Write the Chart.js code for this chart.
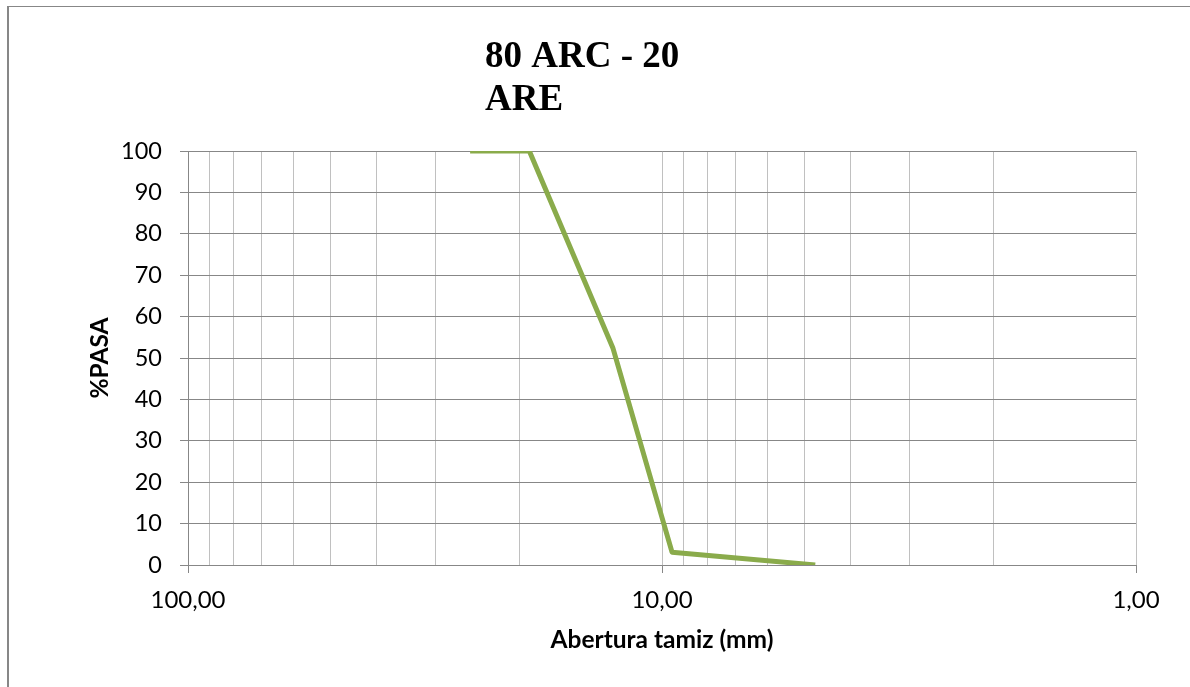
<!DOCTYPE html>
<html>
<head>
<meta charset="utf-8">
<script src="https://cdn.jsdelivr.net/npm/chart.js@4.4.1/dist/chart.umd.min.js"></script>
<style>
  html, body { margin: 0; padding: 0; background: #fff; }
  #wrap { position: relative; width: 1190px; height: 687px; overflow: hidden; }
  #frame { position: absolute; left: 7px; top: 6px; width: 1300px; height: 800px;
           border-left: 2px solid #878787; border-top: 1px solid #878787; }
  canvas { position: absolute; left: 0; top: 0; }
</style>
</head>
<body>
<div id="wrap">
  <div id="frame"></div>
  <canvas id="chart" width="1190" height="687"></canvas>
</div>
<script>
// Grading curve: sieve opening (mm) vs. percent passing
const titleLines = ['80 ARC - 20', 'ARE'];
const sieveOpening = [25.4, 19.05, 12.7, 9.525, 4.75];
const percentPassing = [100, 100, 52.5, 3.1, 0];
const gridValues = [1, 2, 3, 4, 5, 6, 7, 8, 9, 10, 20, 30, 40, 50, 60, 70, 80, 90, 100];
const labelledValues = [100, 10, 1];
const xTitle = 'Abertura tamiz (mm)';
const yTitle = '%PASA';

const DARK = '#878787';
const LIGHT = '#c0c0c0';
const SANS = 'Lato, "Open Sans", sans-serif';

const titleBlock = {
  id: 'titleBlock',
  afterDraw(chart) {
    const ctx = chart.ctx;
    ctx.save();
    ctx.font = 'bold 37px "Liberation Serif", "Times New Roman", serif';
    ctx.fillStyle = '#000';
    ctx.textAlign = 'left';
    ctx.textBaseline = 'alphabetic';
    titleLines.forEach((line, i) => ctx.fillText(line, 485, 67 + i * 43));
    ctx.restore();
  }
};

new Chart(document.getElementById('chart'), {
  type: 'line',
  data: {
    datasets: [{
      data: sieveOpening.map((x, i) => ({ x, y: percentPassing[i] })),
      borderColor: '#8aab4b',
      borderWidth: 5,
      borderJoinStyle: 'round',
      pointRadius: 0,
      tension: 0,
      fill: false
    }]
  },
  options: {
    responsive: false,
    animation: false,
    devicePixelRatio: 1,
    layout: { padding: { top: 151, right: 54, left: 0, bottom: 0 } },
    plugins: { legend: { display: false }, tooltip: { enabled: false }, title: { display: false } },
    scales: {
      x: {
        type: 'logarithmic',
        reverse: true,
        min: 1,
        max: 100,
        afterBuildTicks: s => { s.ticks = gridValues.map(v => ({ value: v })); },
        afterFit: s => { s.height = 122; },
        ticks: {
          autoSkip: false,
          maxRotation: 0,
          minRotation: 0,
          padding: 13,
          color: '#000',
          font: { family: SANS, size: 24 },
          callback: v => labelledValues.includes(v) ? v.toFixed(2).replace('.', ',') : ''
        },
        grid: {
          color: c => (c.tick && c.tick.value === 100) ? DARK : LIGHT,
          tickColor: c => (c.tick && labelledValues.includes(c.tick.value)) ? DARK : 'rgba(0,0,0,0)',
          tickLength: 8,
          lineWidth: 1
        },
        border: { color: DARK },
        title: {
          display: true,
          text: xTitle,
          color: '#000',
          font: { family: SANS, size: 24.5, weight: 'bold' },
          padding: { top: 0, bottom: 32 }
        }
      },
      y: {
        min: 0,
        max: 100,
        afterFit: s => { s.width = 188; },
        ticks: {
          stepSize: 10,
          padding: 18,
          color: '#000',
          font: { family: SANS, size: 23.5 }
        },
        grid: { color: DARK, tickColor: DARK, tickLength: 8, lineWidth: 1 },
        border: { color: DARK },
        title: {
          display: true,
          text: yTitle,
          color: '#000',
          font: { family: SANS, size: 24.5, weight: 'bold' },
          padding: { top: 85, bottom: 0 }
        }
      }
    }
  },
  plugins: [titleBlock]
});
</script>
</body>
</html>
